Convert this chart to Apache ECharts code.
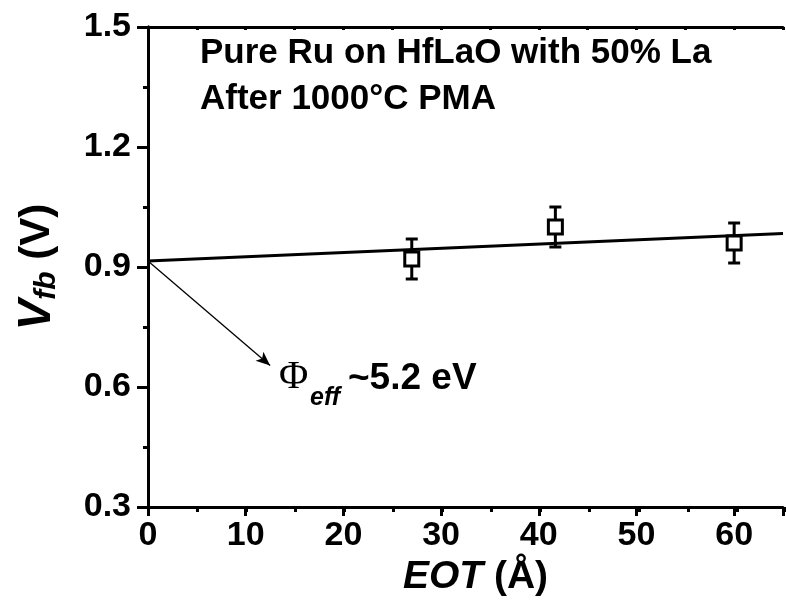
<!DOCTYPE html>
<html><head><meta charset="utf-8">
<script src="https://cdn.jsdelivr.net/npm/echarts@6/dist/echarts.min.js"></script>
<style>html,body{margin:0;padding:0;background:#fff}#c{width:786px;height:608px}</style>
</head><body><div id="c"></div>
<script>
// ---- data ----
const eotX = [27, 41.7, 60];            // EOT (Å)
const vfbY = [0.92, 1.0, 0.96];         // Vfb (V)
const vfbErr = [0.05, 0.05, 0.05];      // error (V)
const fitX = [0, 65];
const fitY = [0.915, 0.984];
const arrowFrom = [0, 0.915];
const arrowTo = [12.5, 0.654];
const xTicks = [0, 10, 20, 30, 40, 50, 60];
const yTicks = [0.3, 0.6, 0.9, 1.2, 1.5];
const titleLines = ['Pure Ru on HfLaO with 50% La', 'After 1000°C PMA'];

const F = 'Liberation Sans, Arial, sans-serif';
const chart = echarts.init(document.getElementById('c'));
const G = {left: 148, top: 27, width: 648, height: 480};
const axLine = {show: true, lineStyle: {color: '#000', width: 3}};

const option = {
  animation: false,
  backgroundColor: '#fff',
  grid: [Object.assign({}, G), Object.assign({}, G)],
  xAxis: [
    {type: 'value', gridIndex: 0, position: 'bottom', min: 0, max: 65, interval: 10,
     axisLine: axLine, splitLine: {show: false},
     axisTick: {show: true, inside: false, length: 9, lineStyle: {width: 3, color: '#000'}},
     axisLabel: {show: true, margin: 12, color: '#000', fontFamily: F, fontWeight: 'bold', fontSize: 34,
       formatter: v => xTicks.indexOf(v) >= 0 ? String(v) : ''},
     name: '{i|EOT}{n| (Å)}', nameLocation: 'middle', nameGap: 50,
     nameTextStyle: {padding: [0, 0, 0, 20], rich: {
       i: {fontFamily: F, fontWeight: 'bold', fontStyle: 'italic', fontSize: 39, color: '#000'},
       n: {fontFamily: F, fontWeight: 'bold', fontSize: 39, color: '#000'}}}},
    {type: 'value', gridIndex: 0, position: 'top', min: 0, max: 65, interval: 5,
     axisLine: axLine, splitLine: {show: false}, axisLabel: {show: false},
     axisTick: {show: true, inside: true, length: 3, lineStyle: {width: 3, color: '#000'}}},
    {type: 'value', gridIndex: 1, position: 'bottom', min: 0, max: 65, interval: 5,
     axisLine: {show: false}, splitLine: {show: false}, axisLabel: {show: false},
     axisTick: {show: true, inside: false, length: 5, lineStyle: {width: 3, color: '#000'}}}
  ],
  yAxis: [
    {type: 'value', gridIndex: 0, position: 'left', min: 0.3, max: 1.5, interval: 0.3,
     axisLine: axLine, splitLine: {show: false},
     axisTick: {show: true, inside: false, length: 9, lineStyle: {width: 3, color: '#000'}},
     minorTick: {show: true, splitNumber: 2, length: 5, lineStyle: {width: 3, color: '#000'}},
     axisLabel: {show: true, margin: 17, color: '#000', fontFamily: F, fontWeight: 'bold', fontSize: 34,
       formatter: v => v.toFixed(1)},
     name: '{v|V}{s|fb}{n| (V)}', nameLocation: 'middle', nameRotate: 90, nameGap: 86,
     nameTextStyle: {rich: {
       v: {fontFamily: F, fontWeight: 'bold', fontStyle: 'italic', fontSize: 46, color: '#000'},
       s: {fontFamily: F, fontWeight: 'bold', fontStyle: 'italic', fontSize: 30, color: '#000', padding: [20, 0, 0, 0]},
       n: {fontFamily: F, fontWeight: 'bold', fontSize: 42, color: '#000'}}}},
    {type: 'value', gridIndex: 0, position: 'right', min: 0.3, max: 1.5, interval: 0.3,
     axisLine: axLine, splitLine: {show: false}, axisLabel: {show: false},
     axisTick: {show: true, inside: true, length: 11, lineStyle: {width: 3, color: '#000'}}},
    {type: 'value', gridIndex: 1, show: false, min: 0.3, max: 1.5}
  ],
  series: [
    {type: 'line', xAxisIndex: 0, yAxisIndex: 0, data: fitX.map((x, i) => [x, fitY[i]]),
     symbol: 'none', lineStyle: {color: '#000', width: 3}, z: 3,
     markLine: {silent: true, symbol: ['none', 'arrow'], symbolSize: [9, 14],
       lineStyle: {color: '#000', width: 1.3, type: 'solid'}, label: {show: false},
       data: [[{coord: arrowFrom}, {coord: arrowTo}]]}},
    {type: 'custom', xAxisIndex: 0, yAxisIndex: 0, z: 4,
     data: eotX.map((x, i) => [x, vfbY[i], vfbErr[i]]),
     renderItem: (params, api) => {
       const x = api.value(0), y = api.value(1), e = api.value(2);
       const hi = api.coord([x, y + e]), lo = api.coord([x, y - e]);
       const w = 6;
       const st = {stroke: '#000', lineWidth: 3, fill: null};
       return {type: 'group', children: [
         {type: 'line', shape: {x1: hi[0], y1: hi[1], x2: lo[0], y2: lo[1]}, style: st},
         {type: 'line', shape: {x1: hi[0] - w, y1: hi[1], x2: hi[0] + w, y2: hi[1]}, style: st},
         {type: 'line', shape: {x1: lo[0] - w, y1: lo[1], x2: lo[0] + w, y2: lo[1]}, style: st}
       ]};
     }},
    {type: 'scatter', xAxisIndex: 0, yAxisIndex: 0, z: 5,
     data: eotX.map((x, i) => [x, vfbY[i]]),
     symbol: 'rect', symbolSize: 14,
     itemStyle: {color: '#fff', borderColor: '#000', borderWidth: 3, opacity: 1}}
  ],
  graphic: [
    {type: 'text', left: 200, top: 36, style: {text: titleLines[0], font: 'bold 35px ' + F, fill: '#000'}},
    {type: 'text', left: 200, top: 82, style: {text: titleLines[1], font: 'bold 35px ' + F, fill: '#000'}},
    {type: 'text', left: 279, top: 357, style: {text: 'Φ', font: '40px Liberation Serif, Times New Roman, serif', fill: '#000'}},
    {type: 'text', left: 310, top: 386, style: {text: 'eff', font: 'italic bold 25px ' + F, fill: '#000'}},
    {type: 'text', left: 348, top: 360, style: {text: '~5.2 eV', font: 'bold 37px ' + F, fill: '#000'}}
  ]
};
chart.setOption(option);
</script></body></html>
